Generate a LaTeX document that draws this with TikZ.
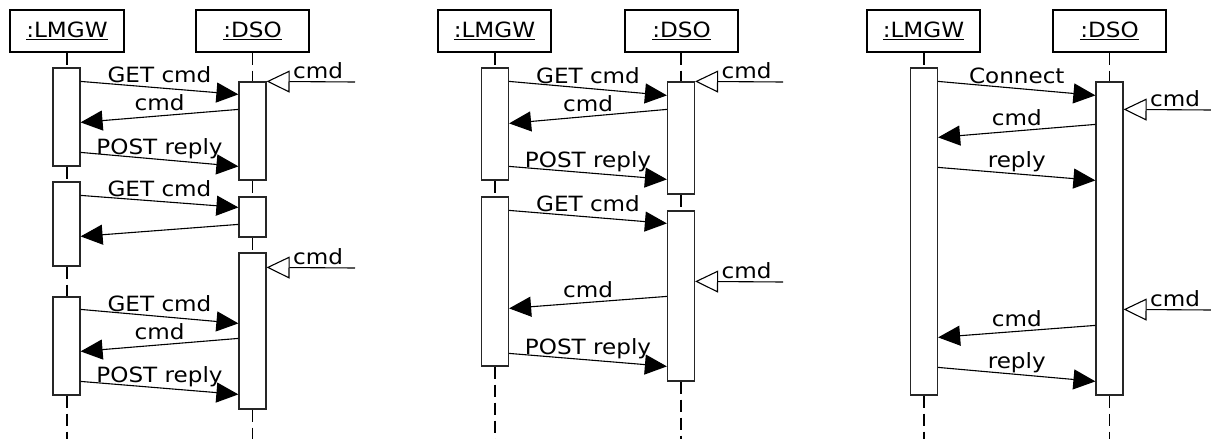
\documentclass[tikz,border=0pt]{standalone}
\usepackage{fontspec}
\setmainfont{DejaVu Sans}[FakeStretch=1.1]
\usetikzlibrary{arrows.meta,calc}

\tikzset{
  objbox/.style={draw=black, line width=1.2pt, minimum height=42pt, inner sep=0pt,
    font=\fontsize{21}{25}\selectfont},
  actbox/.style={draw=black!85, line width=1.2pt, fill=white, minimum width=27pt, inner sep=0pt},
  life/.style={line width=1.1pt, dash pattern=on 12pt off 6pt},
  msg/.style={line width=1.1pt, -{Triangle[length=22pt,width=20pt]}},
  found/.style={line width=1.1pt, -{Triangle[open,length=23pt,width=22pt,line width=1.1pt]}},
  lbl/.style={font=\fontsize{21}{25}\selectfont, inner sep=0pt, anchor=base},
  flbl/.style={font=\fontsize{21}{25}\selectfont, inner sep=0pt, anchor=base west,
    xshift=26pt, yshift=3pt},
}

\begin{document}
\begin{tikzpicture}[x=1pt,y=-1pt]
\useasboundingbox (0,0) rectangle (1211,439);

% ---------- first scenario: polling with GET/POST ----------
\node[objbox, minimum width=114pt] (L1) at (67,31) {\underline{:LMGW}};
\node[objbox, minimum width=113pt] (D1) at (252.5,31) {\underline{:DSO}};
\coordinate (L1e) at (67,439);
\coordinate (D1e) at (252.5,439);

\node[actbox, minimum height=98pt]  (a11) at (66.5,117) {};
\node[actbox, minimum height=84pt]  (a12) at (66.5,224) {};
\node[actbox, minimum height=98pt]  (a13) at (66.5,346) {};
\node[actbox, minimum height=98pt]  (d11) at (252.5,131) {};
\node[actbox, minimum height=40pt]  (d12) at (252.5,217) {};
\node[actbox, minimum height=156pt] (d13) at (252.5,331) {};

\draw[life] (L1.south) -- (L1.south |- a11.north);
\draw[life] (L1.south |- a11.south) -- (L1.south |- a12.north);
\draw[life] (L1.south |- a12.south) -- (L1.south |- a13.north);
\draw[life] (L1.south |- a13.south) -- (L1e);
\draw[life] (D1.south) -- (D1.south |- d11.north);
\draw[life] (D1.south |- d11.south) -- (D1.south |- d12.north);
\draw[life] (D1.south |- d12.south) -- (D1.south |- d13.north);
\draw[life] (D1.south |- d13.south) -- (D1e);

\coordinate (f11) at (355,82);
\coordinate (f12) at (355,268);
\draw[found] (f11) -- (d11.north east) node[flbl, pos=1] {cmd};
\draw[found] (f12) -- ($(d13.north east)+(0,15)$) node[flbl, pos=1] {cmd};

\draw[msg] ($(a11.north east)+(0,14)$) -- ($(d11.north west)+(0,13)$) node[lbl, midway, yshift=5pt] {GET cmd};
\draw[msg] ($(d11.north west)+(0,28)$) -- ($(a11.north east)+(0,55)$) node[lbl, midway, yshift=5pt] {cmd};
\draw[msg] ($(a11.north east)+(0,85)$) -- ($(d11.north west)+(0,85)$) node[lbl, midway, yshift=5pt] {POST reply};
\draw[msg] ($(a12.north east)+(0,14)$) -- ($(d12.north west)+(0,11)$) node[lbl, midway, yshift=5pt] {GET cmd};
\draw[msg] ($(d12.north west)+(0,28)$) -- ($(a12.north east)+(0,55)$);
\draw[msg] ($(a13.north east)+(0,13)$) -- ($(d13.north west)+(0,71)$) node[lbl, midway, yshift=5pt] {GET cmd};
\draw[msg] ($(d13.north west)+(0,86)$) -- ($(a13.north east)+(0,55)$) node[lbl, midway, yshift=5pt] {cmd};
\draw[msg] ($(a13.north east)+(0,85)$) -- ($(d13.north west)+(0,142)$) node[lbl, midway, yshift=5pt] {POST reply};

% ---------- second scenario: long polling ----------
\node[objbox, minimum width=113pt] (L2) at (494.5,31) {\underline{:LMGW}};
\node[objbox, minimum width=113pt] (D2) at (681.5,31) {\underline{:DSO}};
\coordinate (L2e) at (495,439);
\coordinate (D2e) at (681,439);

\node[actbox, minimum height=112pt] (a21) at (495,124) {};
\node[actbox, minimum height=169pt] (a22) at (495,281.5) {};
\node[actbox, minimum height=112pt] (d21) at (681,138) {};
\node[actbox, minimum height=170pt] (d22) at (681,296) {};

\draw[life] (a21.north |- L2.south) -- (a21.north);
\draw[life] (a21.south) -- (a22.north);
\draw[life] (a22.south) -- (L2e);
\draw[life] (d21.north |- D2.south) -- (d21.north);
\draw[life] (d21.south) -- (d22.north);
\draw[life] (d22.south) -- (D2e);

\coordinate (f21) at (783,82);
\coordinate (f22) at (783,282);
\draw[found] (f21) -- (d21.north east) node[flbl, pos=1] {cmd};
\draw[found] (f22) -- ($(d22.north east)+(0,71)$) node[flbl, pos=1] {cmd};

\draw[msg] ($(a21.north east)+(0,14)$) -- ($(d21.north west)+(0,14)$) node[lbl, midway, yshift=5pt] {GET cmd};
\draw[msg] ($(d21.north west)+(0,28)$) -- ($(a21.north east)+(0,56)$) node[lbl, midway, yshift=5pt] {cmd};
\draw[msg] ($(a21.north east)+(0,99)$) -- ($(d21.north west)+(0,98)$) node[lbl, midway, yshift=5pt] {POST reply};
\draw[msg] ($(a22.north east)+(0,14)$) -- ($(d22.north west)+(0,13)$) node[lbl, midway, yshift=5pt] {GET cmd};
\draw[msg] ($(d22.north west)+(0,86)$) -- ($(a22.north east)+(0,112)$) node[lbl, midway, yshift=5pt] {cmd};
\draw[msg] ($(a22.north east)+(0,157)$) -- ($(d22.north west)+(0,156)$) node[lbl, midway, yshift=5pt] {POST reply};

% ---------- third scenario: persistent connection ----------
\node[objbox, minimum width=113pt] (L3) at (923.5,31) {\underline{:LMGW}};
\node[objbox, minimum width=113pt] (D3) at (1109.5,31) {\underline{:DSO}};
\coordinate (L3e) at (924,439);
\coordinate (D3e) at (1109.5,439);

\node[actbox, minimum height=327pt] (a31) at (924,231.5) {};
\node[actbox, minimum height=313pt] (d31) at (1109.5,238.5) {};

\draw[life] (a31.north |- L3.south) -- (a31.north);
\draw[life] (a31.south) -- (L3e);
\draw[life] (d31.north |- D3.south) -- (d31.north);
\draw[life] (d31.south) -- (D3e);

\coordinate (f31) at (1211,110);
\coordinate (f32) at (1211,310);
\draw[found] (f31) -- ($(d31.north east)+(0,28)$) node[flbl, pos=1] {cmd};
\draw[found] (f32) -- ($(d31.north east)+(0,228)$) node[flbl, pos=1] {cmd};

\draw[msg] ($(a31.north east)+(0,14)$) -- ($(d31.north west)+(0,14)$) node[lbl, midway, yshift=5pt] {Connect};
\draw[msg] ($(d31.north west)+(0,43)$) -- ($(a31.north east)+(0,70)$) node[lbl, midway, yshift=5pt] {cmd};
\draw[msg] ($(a31.north east)+(0,100)$) -- ($(d31.north west)+(0,99)$) node[lbl, midway, yshift=6pt] {reply};
\draw[msg] ($(d31.north west)+(0,244)$) -- ($(a31.north east)+(0,270)$) node[lbl, midway, yshift=5pt] {cmd};
\draw[msg] ($(a31.north east)+(0,300)$) -- ($(d31.north west)+(0,300)$) node[lbl, midway, yshift=6pt] {reply};
\end{tikzpicture}
\end{document}
